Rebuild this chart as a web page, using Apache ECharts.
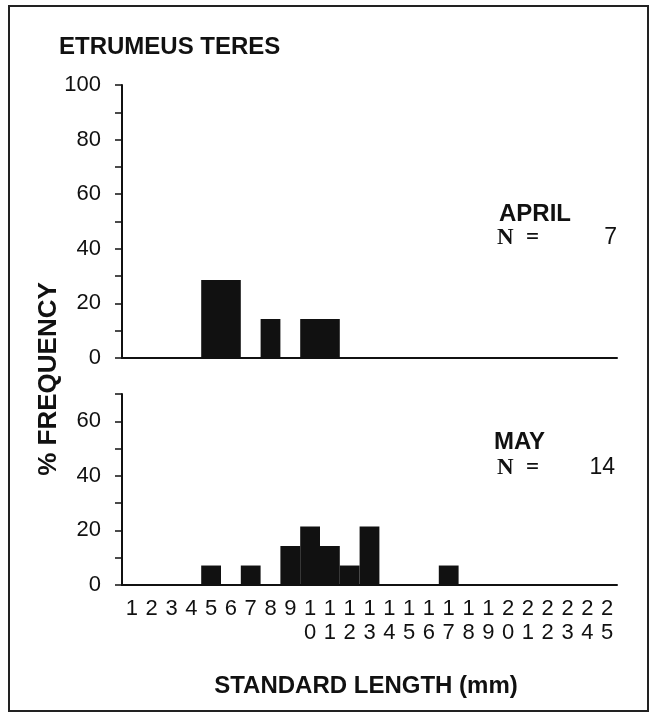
<!DOCTYPE html>
<html><head><meta charset="utf-8">
<script src="https://cdn.jsdelivr.net/npm/echarts@6.0.0/dist/echarts.min.js"></script>
<style>html,body{margin:0;padding:0;background:#fff}#c{width:654px;height:715px}</style>
</head><body><div id="c"></div>
<script>
// Standard length classes (mm)
const categories = ['1','2','3','4','5','6','7','8','9','10','11','12','13','14','15','16','17','18','19','20','21','22','23','24','25'];
// % frequency per length class
const aprilPct = [null,null,null,null,28.57,28.57,null,14.29,null,14.29,14.29,null,null,null,null,null,null,null,null,null,null,null,null,null,null];
const mayPct   = [null,null,null,null,7.14,null,7.14,null,14.29,21.43,14.29,7.14,21.43,null,null,null,7.14,null,null,null,null,null,null,null,null];
const aprilN = 7;
const mayN = 14;
const topYLabels = [0,20,40,60,80,100];
const bottomYLabels = [0,20,40,60];

const INK = '#111';
const SANS = '"Liberation Sans", Arial, sans-serif';
const SERIF = '"Liberation Serif", "Times New Roman", serif';

function catLabel(v){ return v.length < 2 ? v + '\n ' : v[0] + '\n' + v[1]; }

function yAxis(gridIndex, max, labels){
  return {
    type:'value', gridIndex, min:0, max, interval:10,
    axisLine:{show:true, lineStyle:{color:INK, width:2}},
    axisTick:{show:true, length:7, lineStyle:{color:INK, width:1.5}},
    splitLine:{show:false},
    axisLabel:{color:INK, fontSize:22, fontFamily:SANS, margin:21, showMaxLabel:true,
      formatter:(v)=> labels.includes(v) ? String(v) : ''}
  };
}
function xAxis(gridIndex, showLabels){
  return {
    type:'category', gridIndex, data:categories, boundaryGap:true,
    axisLine:{show:true, lineStyle:{color:INK, width:2}},
    axisTick:{show:false},
    axisLabel:{show:showLabels, interval:0, color:INK, fontSize:22, fontFamily:SANS,
      lineHeight:24, margin:12, formatter:catLabel}
  };
}
function txt(text, x, y, font, align, extra){
  return Object.assign({type:'text', x, y, style:{text, x:0, y:0, font, fill:INK,
    align: align||'left', verticalAlign:'middle', textAlign: align||'left', textVerticalAlign:'middle'}}, extra||{});
}

const chart = echarts.init(document.getElementById('c'), null, {renderer:'canvas'});
chart.setOption({
  backgroundColor:'#fff',
  animation:false,
  grid:[
    {left:122, top:85, width:495, height:273, outerBoundsMode:'none', containLabel:false},
    {left:122, top:394, width:495, height:191, outerBoundsMode:'none', containLabel:false}
  ],
  xAxis:[xAxis(0,false), xAxis(1,true)],
  yAxis:[yAxis(0,100,topYLabels), yAxis(1,70,bottomYLabels)],
  series:[
    {type:'bar', xAxisIndex:0, yAxisIndex:0, data:aprilPct, barCategoryGap:'0%', itemStyle:{color:INK}},
    {type:'bar', xAxisIndex:1, yAxisIndex:1, data:mayPct, barCategoryGap:'0%', itemStyle:{color:INK}}
  ],
  graphic:[
    {type:'rect', shape:{x:9, y:6, width:639, height:705}, style:{fill:'none', stroke:'#222', lineWidth:2}, silent:true},
    txt('ETRUMEUS TERES', 59, 47, 'bold 24px ' + SANS),
    txt('STANDARD LENGTH (mm)', 366, 686, 'bold 24px ' + SANS, 'center'),
    txt('% FREQUENCY', 49, 379, 'bold 26px ' + SANS, 'center', {rotation:Math.PI/2}),
    txt('APRIL', 499, 214, 'bold 24px ' + SANS),
    txt('N', 497, 238, 'bold 23px ' + SERIF),
    txt('=', 526, 238, 'bold 23px ' + SERIF),
    txt(String(aprilN), 617, 238, '23px ' + SANS, 'right'),
    txt('MAY', 494, 442, 'bold 24px ' + SANS),
    txt('N', 497, 468, 'bold 23px ' + SERIF),
    txt('=', 526, 468, 'bold 23px ' + SERIF),
    txt(String(mayN), 615, 468, '23px ' + SANS, 'right')
  ]
});
</script></body></html>
